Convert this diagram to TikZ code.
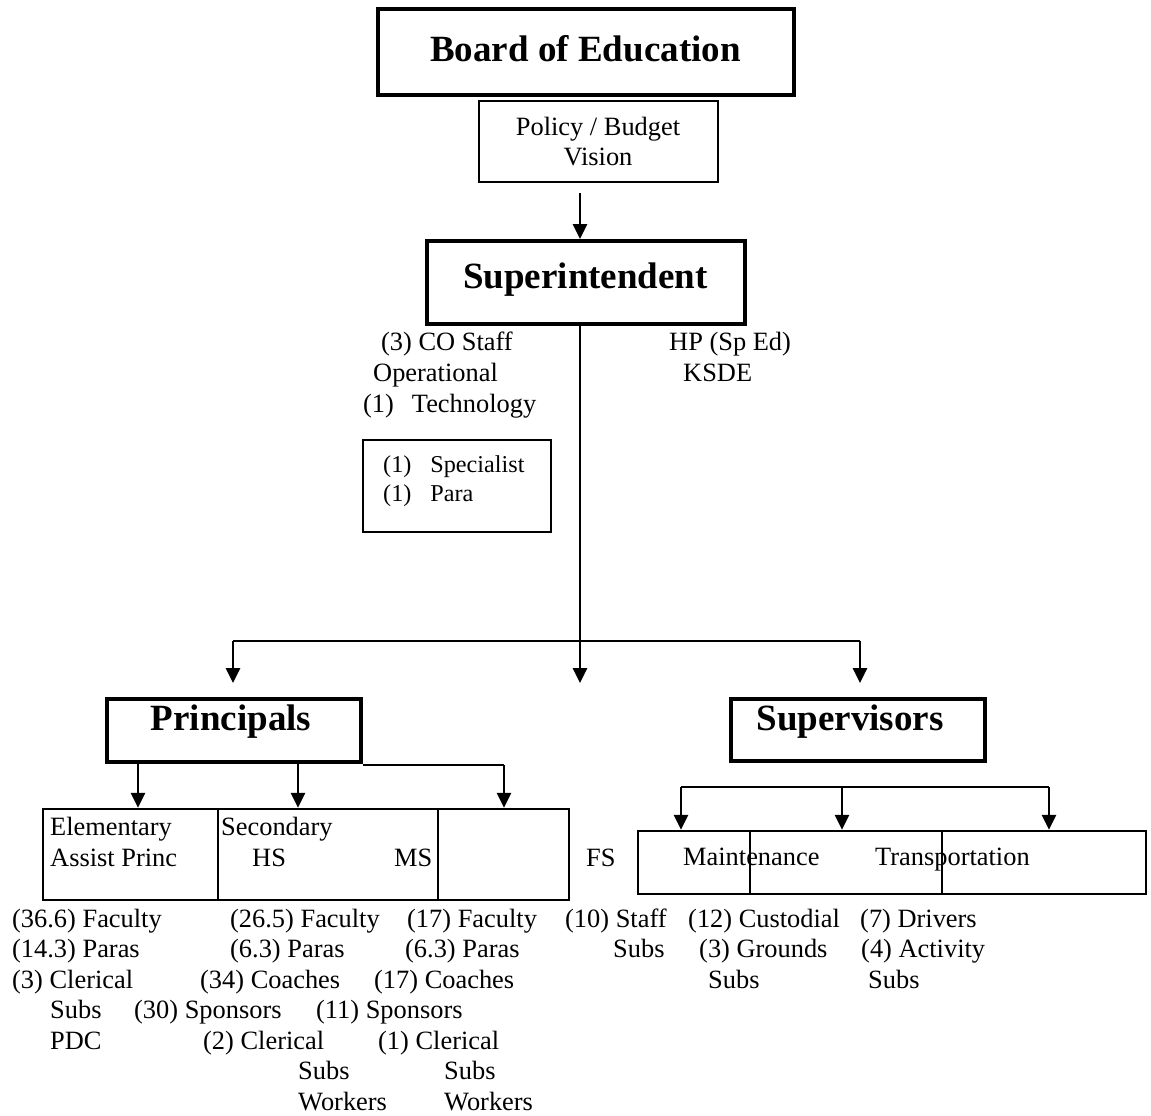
\documentclass[tikz,border=0pt]{standalone}
\usepackage{fontspec}
\setmainfont{Liberation Serif}
\usetikzlibrary{arrows.meta}
\begin{document}
\begin{tikzpicture}[x=1pt,y=-1pt,
  heavybox/.style={draw, line width=4pt, inner sep=0pt},
  lightbox/.style={draw, line width=2pt, inner sep=0pt},
  cellbox/.style={draw, line width=2.5pt, inner sep=0pt},
  title/.style={anchor=base, inner sep=0pt, font=\fontsize{37}{42}\selectfont\bfseries},
  txt/.style={anchor=base west, inner sep=0pt, font=\fontsize{26.4}{30.4}\selectfont},
  ctxt/.style={anchor=base, inner sep=0pt, font=\fontsize{26.4}{30.4}\selectfont},
  smalltxt/.style={anchor=base west, inner sep=0pt, font=\fontsize{24.2}{28}\selectfont},
  conn/.style={line width=2pt},
  arr/.style={line width=2.8pt, -{Triangle[length=15pt,width=14pt]}}]
\useasboundingbox (0,0) rectangle (1151,1116);

% boxes
\node[heavybox, minimum width=416pt, minimum height=85.5pt] (board) at (586,52.25) {};
\node[lightbox, minimum width=239pt, minimum height=81pt] (policy) at (598.5,141.5) {};
\node[heavybox, minimum width=318pt, minimum height=83pt] (super) at (586,282.5) {};
\node[lightbox, minimum width=188pt, minimum height=92pt] (spec) at (457,486) {};
\node[heavybox, minimum width=254pt, minimum height=63pt] (princ) at (234,730.5) {};
\node[heavybox, minimum width=254pt, minimum height=62pt] (superv) at (858,730) {};
\node[cellbox, minimum width=175pt, minimum height=91pt] (elem) at (130.5,854.5) {};
\node[cellbox, minimum width=220pt, minimum height=91pt] (sec) at (328,854.5) {};
\node[cellbox, minimum width=131pt, minimum height=91pt] (third) at (503.5,854.5) {};
\node[cellbox, minimum width=112pt, minimum height=63pt] (maint) at (694,862.5) {};
\node[cellbox, minimum width=192pt, minimum height=63pt] (trans) at (846,862.5) {};
\node[cellbox, minimum width=204pt, minimum height=63pt] (rcell) at (1044,862.5) {};

% titles
\node[title] (boardt) at (585.5,62) {Board of Education};
\node[title] (supert) at (585.5,288) {Superintendent};
\node[title] (princt) at (231,730) {Principals};
\node[title] (supervt) at (850,730) {Supervisors};

\node[ctxt] (pol1) at (598,135) {Policy / Budget};
\node[ctxt] (pol2) at (598,165) {Vision};

% connectors
\coordinate (a1) at (580,193);
\draw[arr] (a1) -- (a1 |- super.north);
\coordinate (mid) at (580,683);
\draw[arr] (mid |- super.south) -- (mid);
\coordinate (hl) at (233,641);
\coordinate (hr) at (860,641);
\coordinate (pl) at (233,683);
\coordinate (pr) at (860,683);
\draw[conn] (hl) -- (hr);
\draw[arr] (hl) -- (pl);
\draw[arr] (hr) -- (pr);

\draw[arr] ([xshift=-96pt]princ.south) -- ([xshift=-96pt]princ.south |- elem.north);
\draw[arr] ([xshift=64pt]princ.south) -- ([xshift=64pt]princ.south |- sec.north);
\coordinate (pk) at (504,765);
\draw[conn] (princ.east |- pk) -- (pk);
\draw[arr] (pk) -- (pk |- third.north);

\coordinate (sl) at (681,787);
\coordinate (sm) at (842,787);
\coordinate (sr) at (1049,787);
\draw[conn] (sl) -- (sr);
\draw[arr] (sl) -- (sl |- maint.north);
\draw[arr] (sm) -- (sm |- trans.north);
\draw[arr] (sr) -- (sr |- rcell.north);

% texts under superintendent
\node[txt] (co1) at (381,350) {(3) CO Staff};
\node[txt] (co2) at (373,381) {Operational};
\node[txt] (co3) at (363,412) {(1)\hspace{18pt}Technology};
\node[txt] (hp1) at (669,350) {HP (Sp Ed)};
\node[txt] (hp2) at (683,381) {KSDE};
\node[smalltxt] (sp1) at (383,472) {(1)\hspace{19pt}Specialist};
\node[smalltxt] (sp2) at (383,501) {(1)\hspace{19pt}Para};

% texts in cells
\node[txt] (el1) at (50,835) {Elementary};
\node[txt] (el2) at (50,866) {Assist Princ};
\node[txt] (se1) at (221,835) {Secondary};
\node[txt] (se2) at (252,866) {HS};
\node[txt] (se3) at (394,866) {MS};
\node[txt] (fs) at (586,866) {FS};
\node[txt] (mt) at (683,865) {Maintenance};
\node[txt] (tr) at (875,865) {Transportation};

% bottom lists
\node[txt] (l1) at (12,927) {(36.6) Faculty};
\node[txt] (l2) at (12,957.5) {(14.3) Paras};
\node[txt] (l3) at (12,988) {(3) Clerical};
\node[txt] (l4) at (50,1018.5) {Subs};
\node[txt] (l5) at (50,1049) {PDC};

\node[txt] (h1) at (230,927) {(26.5) Faculty};
\node[txt] (h2) at (230,957.5) {(6.3) Paras};
\node[txt] (h3) at (200,988) {(34) Coaches};
\node[txt] (h4) at (134,1018.5) {(30) Sponsors};
\node[txt] (h5) at (203,1049) {(2) Clerical};
\node[txt] (h6) at (298,1079.5) {Subs};
\node[txt] (h7) at (298,1110) {Workers};

\node[txt] (m1) at (407,927) {(17) Faculty};
\node[txt] (m2) at (405,957.5) {(6.3) Paras};
\node[txt] (m3) at (374,988) {(17) Coaches};
\node[txt] (m4) at (316,1018.5) {(11) Sponsors};
\node[txt] (m5) at (378,1049) {(1) Clerical};
\node[txt] (m6) at (444,1079.5) {Subs};
\node[txt] (m7) at (444,1110) {Workers};

\node[txt] (f1) at (565,927) {(10) Staff};
\node[txt] (f2) at (613,957.5) {Subs};

\node[txt] (c1) at (688,927) {(12) Custodial};
\node[txt] (c2) at (699,957.5) {(3) Grounds};
\node[txt] (c3) at (708,988) {Subs};

\node[txt] (d1) at (860,927) {(7) Drivers};
\node[txt] (d2) at (861,957.5) {(4) Activity};
\node[txt] (d3) at (868,988) {Subs};
\end{tikzpicture}
\end{document}
